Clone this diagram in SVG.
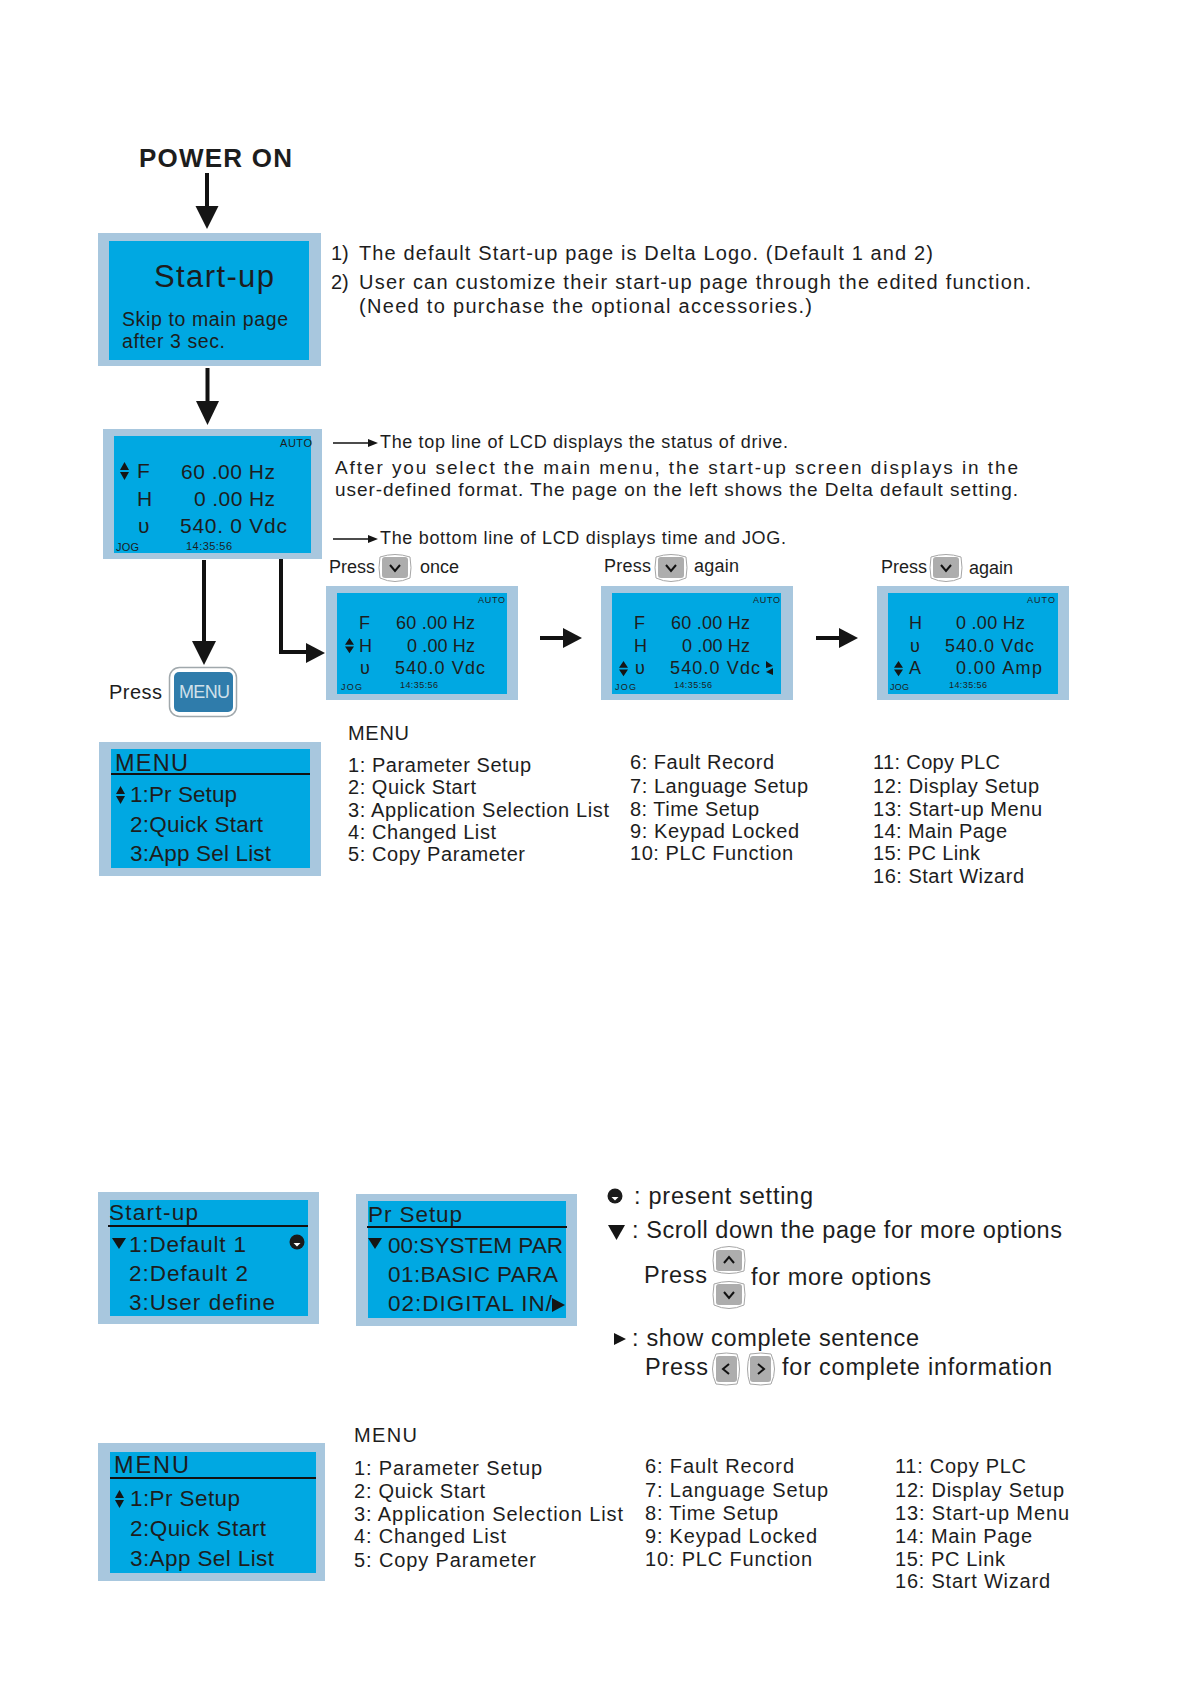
<svg xmlns="http://www.w3.org/2000/svg" xmlns:xlink="http://www.w3.org/1999/xlink" width="1191" height="1684" viewBox="0 0 1191 1684">
<style>
text{font-family:"Liberation Sans",Arial,sans-serif;fill:#1d1d1d}
.frame{fill:#a8c7de}
.lcd{fill:#00a8e2}
.t19{font-size:20px}
.t18{font-size:19px}
.t17{font-size:18px}
.t23{font-size:22.500px}
.t24{font-size:23.500px}
.t21{font-size:21px}
.t11{font-size:11px}
.t9{font-size:9px}
.m18{font-size:18px}
.hr{stroke:#111;stroke-width:2}
.sh{stroke:#111;stroke-width:4;fill:none}
.thin{stroke:#111;stroke-width:1.6;fill:none}
.tri{fill:#151515}
</style>
<defs>
<g id="key">
<path d="M1 3Q16 -2 31 3Q33 14 31 24Q16 31 1 24Q-1 14 1 3Z" fill="#fff" stroke="#a6a6a6" stroke-width="1"/>
<rect x="3" y="3" width="26" height="21" rx="3" fill="#adadad"/>
<polyline points="11,11 16,17 21,11" fill="none" stroke="#111" stroke-width="2"/>
</g>
<path id="updown" d="M0 8L4.500 0L9 8ZM0 10H9L4.500 18Z" fill="#151515"/>
<g id="dot"><circle r="7.500" fill="#1b1b1b"/><path d="M-3.500 1H3.500L0 4.500Z" fill="#fff"/></g>
</defs>
<rect width="1191" height="1684" fill="#fff"/>

<g id="connectors">
<path class="sh" d="M207 173V207"/><path class="tri" d="M195.500 206H218.500L207 229Z"/>
<path class="sh" d="M207.500 368V402"/><path class="tri" d="M196 401H219L207.500 425Z"/>
<path class="sh" d="M204 560V642"/><path class="tri" d="M192 641H216L204 665Z"/>
<path class="sh" d="M281 559V652H307"/><path class="tri" d="M306 643L325 653L306 663Z"/>
<path class="sh" d="M540 638H564"/><path class="tri" d="M563 628L582 638L563 648Z"/>
<path class="sh" d="M816 638H840"/><path class="tri" d="M839 628L858 638L839 648Z"/>
<path class="thin" d="M333 443H372"/><path class="tri" d="M368 439L378 443L368 447Z"/>
<path class="thin" d="M333 539H372"/><path class="tri" d="M368 535L378 539L368 543Z"/>
</g>

<g id="power-on"><text x="139" y="167" font-size="26" font-weight="700" textLength="153">POWER ON</text></g>

<g id="startup">
<rect class="frame" x="98" y="233" width="223" height="133"/><rect class="lcd" x="109" y="241" width="200" height="119"/>
<text x="154" y="287" font-size="31" textLength="120">Start-up</text>
<text x="122" y="326" font-size="19.500" textLength="166">Skip to main page</text>
<text x="122" y="348" font-size="19.500" textLength="103">after 3 sec.</text>
</g>

<g id="notes-top">
<text x="331" y="260" class="t19">1)</text><text x="359" y="260" class="t19" textLength="574">The default Start-up page is Delta Logo. (Default 1 and 2)</text>
<text x="331" y="289" class="t19">2)</text><text x="359" y="289" class="t19" textLength="672">User can customize their start-up page through the edited function.</text>
<text x="359" y="313" class="t19" textLength="453">(Need to purchase the optional accessories.)</text>
<text x="380" y="448" class="t17" textLength="408">The top line of LCD displays the status of drive.</text>
<text x="335" y="474" class="t18" textLength="683">After you select the main menu, the start-up screen displays in the</text>
<text x="335" y="496" class="t18" textLength="683">user-defined format. The page on the left shows the Delta default setting.</text>
<text x="380" y="544" class="t17" textLength="406">The bottom line of LCD displays time and JOG.</text>
</g>

<g id="status">
<rect class="frame" x="103" y="429" width="219" height="130"/><rect class="lcd" x="114" y="436" width="197" height="117"/>
<text x="280" y="447" class="t11" textLength="32">AUTO</text>
<use href="#updown" transform="translate(120 462)"/>
<text x="137" y="478" class="t21">F</text><text x="181" y="479" class="t21" textLength="94">60 .00 Hz</text>
<text x="137" y="506" class="t21">H</text><text x="194" y="506" class="t21" textLength="81">0 .00 Hz</text>
<text x="138" y="533" class="t21">υ</text><text x="180" y="533" class="t21" textLength="107">540. 0 Vdc</text>
<text x="116" y="551" class="t11" textLength="23">JOG</text><text x="186" y="550" class="t11" textLength="46">14:35:56</text>
</g>

<g id="press-menu">
<text x="109" y="699" font-size="20" textLength="53">Press</text>
<rect x="169.500" y="667.500" width="67" height="49" rx="10" fill="#fff" stroke="#a0a8ac" stroke-width="1.500"/>
<rect x="174" y="672" width="59" height="40" rx="5" fill="#2f7cab"/>
<text x="179" y="698" font-size="18" textLength="51" style="fill:#cfe0ea">MENU</text>
</g>

<g id="press-row">
<text x="329" y="573" class="t17" textLength="46">Press</text><use href="#key" transform="translate(379 554)"/><text x="420" y="573" class="t17" textLength="39">once</text>
<text x="604" y="572" class="t17" textLength="47">Press</text><use href="#key" transform="translate(655 554)"/><text x="694" y="572" class="t17" textLength="45">again</text>
<text x="881" y="573" class="t17" textLength="46">Press</text><use href="#key" transform="translate(930 554)"/><text x="969" y="574" class="t17" textLength="44">again</text>
</g>

<g id="lcd-1">
<rect class="frame" x="326" y="586" width="192" height="114"/><rect class="lcd" x="337" y="593" width="170" height="101"/>
<text x="478" y="603" class="t9" textLength="27">AUTO</text>
<text x="359" y="629" class="m18">F</text><text x="396" y="629" class="m18" textLength="79">60 .00 Hz</text>
<use href="#updown" transform="translate(345 638) scale(1 .85)"/>
<text x="359" y="652" class="m18">H</text><text x="407" y="652" class="m18" textLength="68">0 .00 Hz</text>
<text x="360" y="674" class="m18">υ</text><text x="395" y="674" class="m18" textLength="90">540.0 Vdc</text>
<text x="341" y="690" class="t9" textLength="21">JOG</text><text x="400" y="688" class="t9" textLength="38">14:35:56</text>
</g>

<g id="lcd-2" transform="translate(-3 0)">
<rect class="frame" x="604" y="586" width="192" height="114"/><rect class="lcd" x="615" y="593" width="169" height="101"/>
<text x="756" y="603" class="t9" textLength="27">AUTO</text>
<text x="637" y="629" class="m18">F</text><text x="674" y="629" class="m18" textLength="79">60 .00 Hz</text>
<text x="637" y="652" class="m18">H</text><text x="685" y="652" class="m18" textLength="68">0 .00 Hz</text>
<use href="#updown" transform="translate(622 661) scale(1 .85)"/>
<text x="638" y="674" class="m18">υ</text><text x="673" y="674" class="m18" textLength="90">540.0 Vdc</text>
<path class="tri" d="M769 661L776 666L769 668ZM776 668V675L769 672Z"/>
<text x="618" y="690" class="t9" textLength="21">JOG</text><text x="677" y="688" class="t9" textLength="38">14:35:56</text>
</g>

<g id="lcd-3" transform="translate(-5 0)">
<rect class="frame" x="882" y="586" width="192" height="114"/><rect class="lcd" x="893" y="593" width="170" height="101"/>
<text x="1032" y="603" class="t9" textLength="28">AUTO</text>
<text x="914" y="629" class="m18">H</text><text x="961" y="629" class="m18" textLength="69">0 .00 Hz</text>
<text x="915" y="652" class="m18">υ</text><text x="950" y="652" class="m18" textLength="89">540.0 Vdc</text>
<use href="#updown" transform="translate(899 661) scale(1 .85)"/>
<text x="914" y="674" class="m18">A</text><text x="961" y="674" class="m18" textLength="86">0.00 Amp</text>
<text x="895" y="690" class="t9" textLength="19">JOG</text><text x="954" y="688" class="t9" textLength="38">14:35:56</text>
</g>

<g id="menu-panel-1">
<rect class="frame" x="99" y="742" width="222" height="134"/><rect class="lcd" x="111" y="749" width="199" height="119"/>
<text x="115" y="771" class="t24" textLength="73">MENU</text><line class="hr" x1="111" y1="774" x2="310" y2="774"/>
<use href="#updown" transform="translate(116 786)"/>
<text x="130" y="802" class="t23" textLength="107">1:Pr Setup</text>
<text x="130" y="832" class="t23" textLength="133">2:Quick Start</text>
<text x="130" y="861" class="t23" textLength="141">3:App Sel List</text>
</g>

<g id="menu-list-1">
<text x="348" y="740" class="t19" textLength="61">MENU</text>
<text x="348" y="772" class="t19" textLength="183">1: Parameter Setup</text>
<text x="348" y="794" class="t19" textLength="128">2: Quick Start</text>
<text x="348" y="817" class="t19" textLength="261">3: Application Selection List</text>
<text x="348" y="839" class="t19" textLength="148">4: Changed List</text>
<text x="348" y="861" class="t19" textLength="177">5: Copy Parameter</text>
<text x="630" y="769" class="t19" textLength="144">6: Fault Record</text>
<text x="630" y="793" class="t19" textLength="178">7: Language Setup</text>
<text x="630" y="816" class="t19" textLength="129">8: Time Setup</text>
<text x="630" y="838" class="t19" textLength="169">9: Keypad Locked</text>
<text x="630" y="860" class="t19" textLength="163">10: PLC Function</text>
<text x="873" y="769" class="t19" textLength="127">11: Copy PLC</text>
<text x="873" y="793" class="t19" textLength="166">12: Display Setup</text>
<text x="873" y="816" class="t19" textLength="169">13: Start-up Menu</text>
<text x="873" y="838" class="t19" textLength="134">14: Main Page</text>
<text x="873" y="860" class="t19" textLength="107">15: PC Link</text>
<text x="873" y="883" class="t19" textLength="151">16: Start Wizard</text>
</g>

<g id="startup-menu">
<rect class="frame" x="98" y="1192" width="221" height="132"/><rect class="lcd" x="110" y="1200" width="198" height="116"/>
<text x="109" y="1220" class="t23" textLength="89">Start-up</text><line class="hr" x1="108" y1="1226" x2="308" y2="1226"/>
<path class="tri" d="M112 1238H126L119 1249Z"/>
<text x="129" y="1252" class="t23" textLength="117">1:Default 1</text>
<use href="#dot" transform="translate(297 1242)"/>
<text x="129" y="1281" class="t23" textLength="119">2:Default 2</text>
<text x="129" y="1310" class="t23" textLength="146">3:User define</text>
</g>

<g id="pr-setup">
<rect class="frame" x="356" y="1194" width="221" height="132"/><rect class="lcd" x="368" y="1201" width="198" height="117"/>
<text x="368" y="1222" class="t23" textLength="94">Pr Setup</text><line class="hr" x1="367" y1="1227" x2="567" y2="1227"/>
<path class="tri" d="M368 1238H382L375 1249Z"/>
<text x="388" y="1253" class="t23" textLength="175">00:SYSTEM PAR</text>
<text x="388" y="1282" class="t23" textLength="170">01:BASIC  PARA</text>
<text x="388" y="1311" class="t23" textLength="164">02:DIGITAL  IN/</text>
<path class="tri" d="M552 1298L565 1305L552 1312Z"/>
</g>

<g id="legend">
<use href="#dot" transform="translate(615 1196)"/>
<text x="634" y="1204" class="t24" textLength="179">: present setting</text>
<path class="tri" d="M608 1225H625L616.500 1240Z"/>
<text x="632" y="1238" class="t24" textLength="430">: Scroll down the page for more options</text>
<text x="644" y="1283" class="t24" textLength="63">Press</text>
<use href="#key" transform="translate(745 1274) rotate(180)"/>
<use href="#key" transform="translate(713 1281)"/>
<text x="751" y="1285" class="t24" textLength="180">for more options</text>
<path class="tri" d="M614 1333L626 1339L614 1345Z"/>
<text x="632" y="1346" class="t24" textLength="287">: show complete sentence</text>
<text x="645" y="1375" class="t24" textLength="63">Press</text>
<use href="#key" transform="translate(740 1353) rotate(90)"/>
<use href="#key" transform="translate(747 1385) rotate(-90)"/>
<text x="782" y="1375" class="t24" textLength="270">for complete information</text>
</g>

<g id="menu-panel-2">
<rect class="frame" x="98" y="1443" width="227" height="138"/><rect class="lcd" x="110" y="1452" width="206" height="121"/>
<text x="114" y="1473" class="t24" textLength="75">MENU</text><line class="hr" x1="110" y1="1478" x2="316" y2="1478"/>
<use href="#updown" transform="translate(115 1490)"/>
<text x="130" y="1506" class="t23" textLength="110">1:Pr Setup</text>
<text x="130" y="1536" class="t23" textLength="136">2:Quick Start</text>
<text x="130" y="1566" class="t23" textLength="144">3:App Sel List</text>
</g>

<g id="menu-list-2">
<text x="354" y="1442" class="t19" textLength="63">MENU</text>
<text x="354" y="1475" class="t19" textLength="188">1: Parameter Setup</text>
<text x="354" y="1498" class="t19" textLength="131">2: Quick Start</text>
<text x="354" y="1521" class="t19" textLength="269">3: Application Selection List</text>
<text x="354" y="1543" class="t19" textLength="152">4: Changed List</text>
<text x="354" y="1567" class="t19" textLength="182">5: Copy Parameter</text>
<text x="645" y="1473" class="t19" textLength="149">6: Fault Record</text>
<text x="645" y="1497" class="t19" textLength="183">7: Language Setup</text>
<text x="645" y="1520" class="t19" textLength="133">8: Time Setup</text>
<text x="645" y="1543" class="t19" textLength="172">9: Keypad Locked</text>
<text x="645" y="1566" class="t19" textLength="167">10: PLC Function</text>
<text x="895" y="1473" class="t19" textLength="131">11: Copy PLC</text>
<text x="895" y="1497" class="t19" textLength="169">12: Display Setup</text>
<text x="895" y="1520" class="t19" textLength="174">13: Start-up Menu</text>
<text x="895" y="1543" class="t19" textLength="137">14: Main Page</text>
<text x="895" y="1566" class="t19" textLength="110">15: PC Link</text>
<text x="895" y="1588" class="t19" textLength="155">16: Start Wizard</text>
</g>
</svg>
